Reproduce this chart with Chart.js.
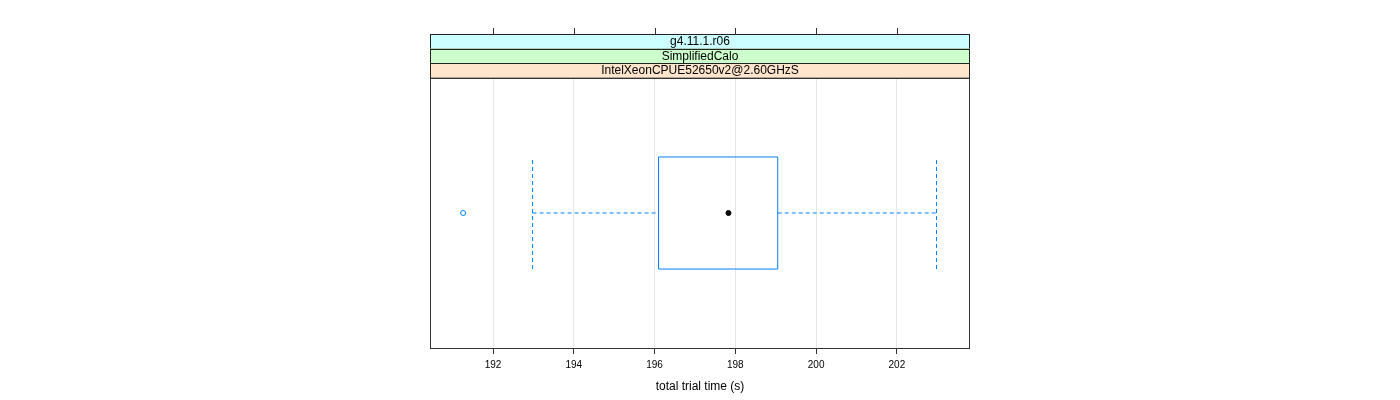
<!DOCTYPE html>
<html>
<head>
<meta charset="utf-8">
<script src="https://cdn.jsdelivr.net/npm/chart.js@4"></script>
<style>
  body { margin: 0; background: #fff; }
</style>
</head>
<body>
<canvas id="bwChart" width="1400" height="400"></canvas>
<script>
// données
const stripLabels = ['g4.11.1.r06', 'SimplifiedCalo', 'IntelXeonCPUE52650v2@2.60GHzS'];
const stripColors = ['#ccffff', '#ccffcc', '#ffe5cc'];
const tickValues = [192, 194, 196, 198, 200, 202];
const whiskerLow = [192.98];
const quartile1 = [196.098];
const median = [197.83];
const quartile3 = [199.05];
const whiskerHigh = [202.98];
const outliers = [191.26];
const axisTitle = 'total trial time (s)';

const xMin = 190.44, xMax = 203.81;
const halfBox = 0.415; // demi-hauteur de la boite en unités y

const blue = '#0080ff';

// la boite = un polygone fermé
const boxPoints = [
  {x: quartile1[0], y: -halfBox}, {x: quartile3[0], y: -halfBox},
  {x: quartile3[0], y: halfBox}, {x: quartile1[0], y: halfBox},
  {x: quartile1[0], y: -halfBox}
];

function dashed(points) {
  return {
    data: points, showLine: true, borderColor: blue, borderWidth: 1,
    borderDash: [4, 3], pointRadius: 0, tension: 0, fill: false
  };
}

// plugin: cadre, bandeaux (strips) et ticks du haut
const latticePlugin = {
  id: 'lattice',
  afterDraw(chart) {
    const ctx = chart.ctx;
    const area = chart.chartArea;
    const xs = chart.scales.x;
    const stripH = (area.top - 34) / stripLabels.length;

    ctx.save();
    // bandeaux
    for (let i = 0; i < stripLabels.length; i++) {
      const y0 = 34 + i * stripH;
      ctx.fillStyle = stripColors[i];
      ctx.fillRect(area.left, y0, area.right - area.left, stripH);
      ctx.strokeStyle = '#222';
      ctx.lineWidth = 1;
      ctx.strokeRect(area.left + 0.5, Math.round(y0) + 0.5, area.right - area.left - 1, stripH);
      ctx.fillStyle = '#000';
      ctx.font = '12px "Liberation Sans", Arial, sans-serif';
      ctx.textAlign = 'center';
      ctx.textBaseline = 'middle';
      ctx.fillText(stripLabels[i], (area.left + area.right) / 2, y0 + stripH / 2 + 0.5);
    }
    // ticks du haut
    ctx.strokeStyle = '#333';
    ctx.beginPath();
    tickValues.forEach(v => {
      const px = Math.round(xs.getPixelForValue(v)) + 0.5;
      ctx.moveTo(px, 28);
      ctx.lineTo(px, 34);
    });
    ctx.stroke();
    // cadre du panneau
    ctx.strokeStyle = '#333';
    ctx.strokeRect(area.left + 0.5, area.top + 0.5, area.right - area.left - 1, area.bottom - area.top);
    ctx.restore();
  }
};

const ctx = document.getElementById('bwChart').getContext('2d');

const chart = new Chart(ctx, {
  type: 'scatter',
  data: {
    datasets: [
      {
        data: boxPoints, showLine: true, borderColor: blue, borderWidth: 1,
        pointRadius: 0, tension: 0, fill: false
      },
      dashed([{x: whiskerLow[0], y: 0}, {x: quartile1[0], y: 0}]),
      dashed([{x: quartile3[0], y: 0}, {x: whiskerHigh[0], y: 0}]),
      dashed([{x: whiskerLow[0], y: -halfBox}, {x: whiskerLow[0], y: halfBox}]),
      dashed([{x: whiskerHigh[0], y: -halfBox}, {x: whiskerHigh[0], y: halfBox}]),
      {
        data: median.map(v => ({x: v, y: 0})),
        pointRadius: 2.5, pointBackgroundColor: '#000', pointBorderColor: '#000', pointBorderWidth: 1
      },
      {
        data: outliers.map(v => ({x: v, y: 0})),
        pointRadius: 2.5, pointBackgroundColor: 'rgba(0,0,0,0)', pointBorderColor: blue, pointBorderWidth: 1
      }
    ]
  },
  options: {
    responsive: false,
    animation: false,
    layout: { padding: { left: 430, right: 430, top: 78, bottom: 0 } },
    plugins: { legend: { display: false }, tooltip: { enabled: false } },
    scales: {
      x: {
        type: 'linear',
        min: xMin,
        max: xMax,
        afterBuildTicks: scale => { scale.ticks = tickValues.map(v => ({value: v})); },
        afterFit: scale => { scale.height = 52; },
        grid: { color: '#e6e6e6', tickColor: '#333', tickLength: 6, drawOnChartArea: true },
        border: { display: false },
        ticks: {
          color: '#000', padding: 5, maxRotation: 0,
          font: { family: '"Liberation Sans", Arial, sans-serif', size: 10 }
        },
        title: {
          display: true, text: axisTitle, color: '#000',
          font: { family: '"Liberation Sans", Arial, sans-serif', size: 12 },
          padding: { top: 4, bottom: 6 }
        }
      },
      y: { type: 'linear', min: -1, max: 1, display: false }
    }
  },
  plugins: [latticePlugin]
});
</script>
</body>
</html>
